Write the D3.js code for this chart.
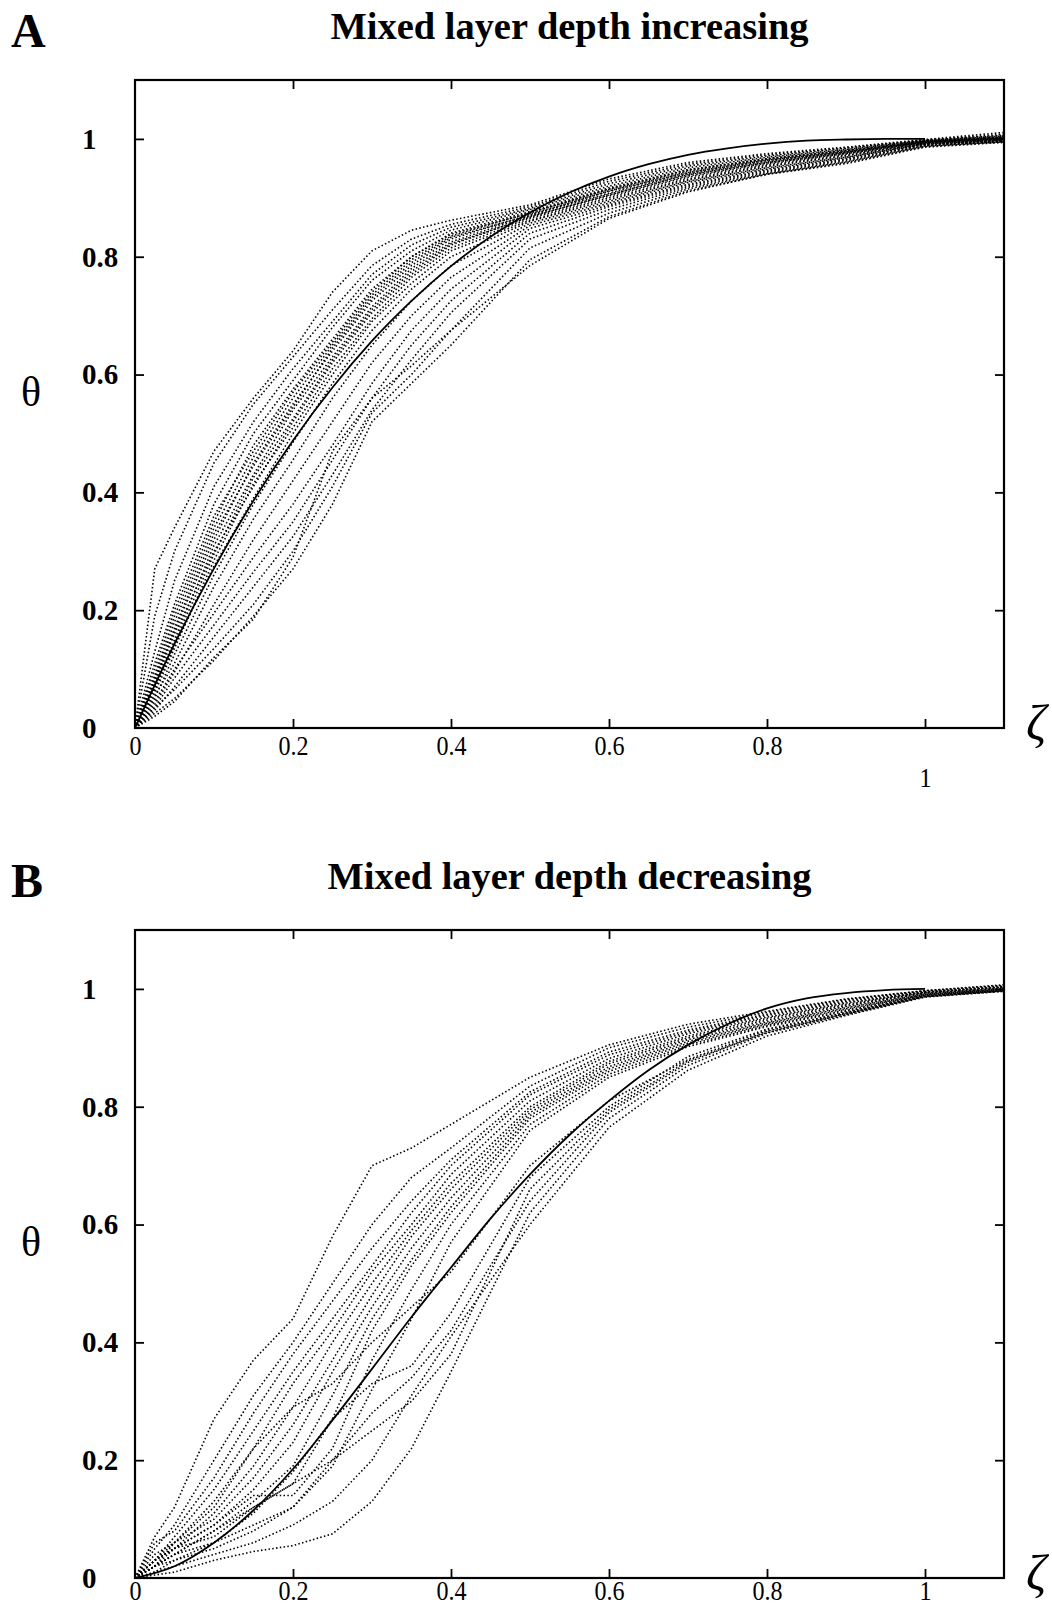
<!DOCTYPE html>
<html>
<head>
<meta charset="utf-8">
<script src="https://cdn.jsdelivr.net/npm/d3@7"></script>
<style>
  body { margin: 0; background: #fff; }
  svg { display: block; }
</style>
</head>
<body>
<svg id="chart" width="1052" height="1608"></svg>
<script>
const CONSTANTS = {
    WIDTH: 1052,
    HEIGHT: 1608,
    LEFT: 135,
    RIGHT: 1004,
    TOPS: [80, 930],
    PLOT_H: 648,
    YLABEL_X: 82,
    // x label padding per panel (B sits on the page edge)
    XPAD: [7, 2],
    // the "1" label of zeta sits lower than the others in the original
    ONE_DROP: [32, 0],
    FONT: "'Liberation Serif', 'DejaVu Serif', serif",
}

// axes
const zetaDomain = [0, 1.1];
const thetaDomain = [0, 1.1];
const xTicks = [0, 0.2, 0.4, 0.6, 0.8, 1];
const yTicks = [0, 0.2, 0.4, 0.6, 0.8, 1];

const panelLetters = ["A", "B"];
const panelTitles = ["Mixed layer depth increasing", "Mixed layer depth decreasing"];

// solid model profiles
const modelZeta = [0, 0.05, 0.1, 0.15, 0.2, 0.25, 0.3, 0.35, 0.4, 0.45, 0.5,
    0.55, 0.6, 0.65, 0.7, 0.75, 0.8, 0.85, 0.9, 0.95, 1.0];
const modelA = [0, 0.143, 0.271, 0.386, 0.488, 0.578, 0.657, 0.725, 0.784, 0.834, 0.875,
    0.909, 0.936, 0.957, 0.973, 0.984, 0.992, 0.997, 0.999, 1.0, 1.0];
const modelB = [0, 0.02, 0.06, 0.115, 0.185, 0.268, 0.355, 0.443, 0.527, 0.61, 0.685,
    0.752, 0.81, 0.862, 0.905, 0.94, 0.967, 0.984, 0.993, 0.998, 1.0];

// dotted runs, sampled on a shared zeta grid
const runZeta = [0, 0.025, 0.05, 0.1, 0.15, 0.2, 0.25, 0.3, 0.35, 0.4, 0.5, 0.6, 0.7, 0.8, 0.9, 1.0, 1.1];

const runsA = [
    [0, .27, .34, .47, .56, .64, .74, .81, .845, .862, .888, .932, .96, .975, .986, .999, 1.011],
    [0, .19, .30, .45, .55, .63, .71, .785, .83, .855, .885, .928, .957, .973, .985, .998, 1.008],
    [0, .13, .25, .41, .52, .61, .69, .77, .82, .85, .882, .924, .954, .971, .984, .998, 1.006],
    [0, .11, .21, .38, .50, .59, .68, .76, .81, .845, .88, .92, .951, .969, .982, .997, 1.005],
    [0, .09, .19, .35, .48, .575, .66, .745, .80, .84, .877, .917, .948, .967, .981, .996, 1.004],
    [0, .10, .20, .36, .47, .57, .655, .74, .80, .838, .874, .915, .947, .966, .98, .996, 1.003],
    [0, .085, .18, .34, .46, .56, .65, .735, .795, .835, .875, .914, .945, .965, .979, .996, 1.003],
    [0, .08, .17, .33, .445, .545, .645, .73, .79, .833, .87, .912, .943, .964, .978, .995, 1.002],
    [0, .08, .165, .32, .45, .55, .64, .725, .785, .83, .872, .911, .942, .963, .978, .995, 1.002],
    [0, .07, .15, .31, .43, .54, .63, .715, .78, .825, .87, .908, .94, .961, .977, .995, 1.001],
    [0, .07, .145, .295, .425, .525, .625, .71, .775, .822, .867, .906, .939, .96, .976, .994, 1.001],
    [0, .075, .16, .30, .41, .52, .62, .705, .77, .82, .868, .905, .937, .959, .975, .994, 1.0],
    [0, .06, .135, .285, .415, .51, .61, .695, .765, .815, .865, .903, .935, .957, .974, .993, 1.0],
    [0, .065, .14, .275, .39, .50, .60, .69, .755, .81, .862, .90, .932, .955, .972, .993, .999],
    [0, .05, .125, .26, .38, .485, .585, .675, .745, .80, .86, .897, .93, .953, .971, .992, .998],
    [0, .055, .11, .24, .355, .455, .56, .65, .725, .785, .857, .894, .928, .951, .969, .992, .998],
    [0, .04, .095, .21, .32, .42, .52, .62, .70, .765, .853, .891, .926, .949, .968, .991, .997],
    [0, .045, .10, .195, .29, .38, .48, .585, .675, .745, .848, .888, .923, .947, .966, .99, .997],
    [0, .035, .085, .175, .265, .35, .455, .56, .65, .725, .84, .885, .921, .945, .965, .99, .996],
    [0, .03, .07, .155, .24, .325, .43, .54, .625, .705, .83, .88, .918, .943, .963, .989, .996],
    [0, .035, .065, .135, .21, .30, .41, .535, .60, .675, .815, .874, .915, .941, .961, .988, .995],
    [0, .025, .05, .115, .19, .27, .38, .52, .585, .65, .795, .868, .912, .94, .96, .987, .995],
    [0, .02, .045, .12, .185, .29, .47, .56, .615, .675, .785, .865, .91, .94, .958, .986, .994],
];

const runsB = [
    [0, .07, .12, .27, .37, .44, .58, .70, .73, .77, .85, .905, .94, .962, .983, .997, 1.007],
    [0, .05, .09, .20, .31, .40, .50, .60, .68, .73, .835, .90, .935, .96, .982, .997, 1.006],
    [0, .06, .08, .17, .28, .38, .47, .56, .64, .71, .825, .893, .93, .957, .98, .996, 1.005],
    [0, .03, .07, .15, .25, .35, .44, .53, .62, .70, .82, .888, .927, .955, .978, .995, 1.004],
    [0, .04, .06, .12, .22, .33, .42, .52, .60, .685, .81, .882, .924, .952, .976, .994, 1.003],
    [0, .03, .05, .11, .19, .29, .40, .50, .59, .67, .80, .877, .92, .95, .974, .994, 1.002],
    [0, .02, .06, .10, .17, .26, .37, .48, .58, .66, .795, .873, .917, .947, .972, .993, 1.001],
    [0, .03, .05, .09, .15, .23, .35, .46, .56, .645, .79, .868, .914, .944, .97, .992, 1.0],
    [0, .02, .04, .08, .13, .19, .31, .44, .54, .63, .785, .864, .911, .942, .968, .991, 1.0],
    [0, .03, .05, .07, .12, .16, .27, .42, .53, .62, .78, .86, .908, .94, .966, .99, .999],
    [0, .02, .05, .09, .14, .14, .22, .37, .49, .60, .77, .855, .905, .938, .964, .99, .998],
    [0, .02, .04, .06, .09, .12, .19, .32, .44, .57, .76, .85, .902, .936, .962, .989, .998],
    [0, .01, .03, .06, .11, .18, .27, .33, .36, .45, .68, .80, .885, .932, .96, .988, .997],
    [0, .02, .03, .05, .08, .12, .20, .28, .34, .42, .64, .79, .875, .928, .958, .987, .997],
    [0, .005, .01, .03, .045, .055, .075, .13, .22, .35, .62, .78, .87, .925, .956, .987, .996],
    [0, .01, .02, .04, .06, .09, .13, .20, .31, .41, .60, .765, .862, .92, .955, .986, .996],
    [0, .03, .06, .13, .22, .29, .33, .40, .46, .52, .70, .81, .88, .93, .96, .988, .997],
    [0, .02, .04, .08, .12, .16, .20, .25, .30, .38, .66, .795, .878, .926, .958, .987, .997],
];

const svg = d3.select("#chart");

function drawPanel(index, modelTheta, runs) {
    const top = CONSTANTS.TOPS[index];
    const x = d3.scaleLinear().domain(zetaDomain).range([CONSTANTS.LEFT, CONSTANTS.RIGHT]);
    const y = d3.scaleLinear().domain(thetaDomain).range([top + CONSTANTS.PLOT_H, top]);
    const g = svg.append("g");

    // panel letter + title
    g.append("text")
        .attr("x", 11)
        .attr("y", top - 33)
        .attr("font-family", CONSTANTS.FONT)
        .attr("font-weight", "bold")
        .attr("font-size", 48)
        .text(panelLetters[index]);

    g.append("text")
        .attr("x", (CONSTANTS.LEFT + CONSTANTS.RIGHT) / 2)
        .attr("y", top - 41)
        .attr("text-anchor", "middle")
        .attr("font-family", CONSTANTS.FONT)
        .attr("font-weight", "bold")
        .attr("font-size", 38)
        .attr("textLength", index === 0 ? 478 : 484)
        .attr("lengthAdjust", "spacingAndGlyphs")
        .text(panelTitles[index]);

    // dotted runs
    const runLine = d3.line()
        .x((d, i) => x(runZeta[i]))
        .y(d => y(d));

    g.append("g")
        .selectAll("path")
        .data(runs)
        .join("path")
        .attr("d", runLine)
        .attr("fill", "none")
        .attr("stroke", "#000")
        .attr("stroke-width", 1.6)
        .attr("stroke-dasharray", "1.5 2.3");

    // model curve
    const modelLine = d3.line()
        .x((d, i) => x(modelZeta[i]))
        .y(d => y(d))
        .curve(d3.curveMonotoneX);

    g.append("path")
        .datum(modelTheta)
        .attr("d", modelLine)
        .attr("fill", "none")
        .attr("stroke", "#000")
        .attr("stroke-width", 1.8);

    // frame
    g.append("rect")
        .attr("x", x(0))
        .attr("y", y(thetaDomain[1]))
        .attr("width", x(zetaDomain[1]) - x(0))
        .attr("height", y(0) - y(thetaDomain[1]))
        .attr("fill", "none")
        .attr("stroke", "#000")
        .attr("stroke-width", 2.2);

    // inward ticks on all four sides
    const tickStyle = a => {
        a.select(".domain").remove();
        a.selectAll("line").attr("stroke-width", 1.8);
    };
    g.append("g").attr("transform", `translate(0,${y(0)})`)
        .call(d3.axisTop(x).tickValues(xTicks.slice(1)).tickSize(9).tickFormat(""))
        .call(tickStyle);
    g.append("g").attr("transform", `translate(0,${y(thetaDomain[1])})`)
        .call(d3.axisBottom(x).tickValues(xTicks.slice(1)).tickSize(9).tickFormat(""))
        .call(tickStyle);
    g.append("g").attr("transform", `translate(${x(0)},0)`)
        .call(d3.axisRight(y).tickValues(yTicks.slice(1)).tickSize(9).tickFormat(""))
        .call(tickStyle);
    g.append("g").attr("transform", `translate(${x(zetaDomain[1])},0)`)
        .call(d3.axisLeft(y).tickValues(yTicks.slice(1)).tickSize(9).tickFormat(""))
        .call(tickStyle);

    // tick labels
    const xl = g.append("g").attr("transform", `translate(0,${y(0)})`)
        .call(d3.axisBottom(x).tickValues(xTicks).tickSize(0).tickPadding(CONSTANTS.XPAD[index]).tickFormat(d3.format("~g")));
    xl.select(".domain").remove();
    xl.selectAll("text")
        .attr("font-family", CONSTANTS.FONT)
        .attr("font-size", 28)
        .attr("fill", "#000")
        .attr("transform", d => `translate(0,${d === 1 ? CONSTANTS.ONE_DROP[index] : 0}) scale(0.86,1)`);

    const yl = g.append("g").attr("transform", `translate(${x(0)},0)`)
        .call(d3.axisLeft(y).tickValues(yTicks).tickSize(0).tickFormat(d3.format("~g")));
    yl.select(".domain").remove();
    yl.selectAll("text")
        .attr("x", CONSTANTS.YLABEL_X - x(0))
        .attr("text-anchor", "start")
        .attr("font-family", CONSTANTS.FONT)
        .attr("font-weight", "bold")
        .attr("font-size", 29)
        .attr("fill", "#000");

    // axis symbols
    g.append("text")
        .attr("x", 31)
        .attr("y", top + 326)
        .attr("text-anchor", "middle")
        .attr("font-family", CONSTANTS.FONT)
        .attr("font-size", 42)
        .text("θ");

    g.append("text")
        .attr("x", 1036)
        .attr("y", y(0) + 12)
        .attr("text-anchor", "middle")
        .attr("font-family", CONSTANTS.FONT)
        .attr("font-style", "italic")
        .attr("font-size", 50)
        .text("ζ");
}

drawPanel(0, modelA, runsA);
drawPanel(1, modelB, runsB);
</script>
</body>
</html>
